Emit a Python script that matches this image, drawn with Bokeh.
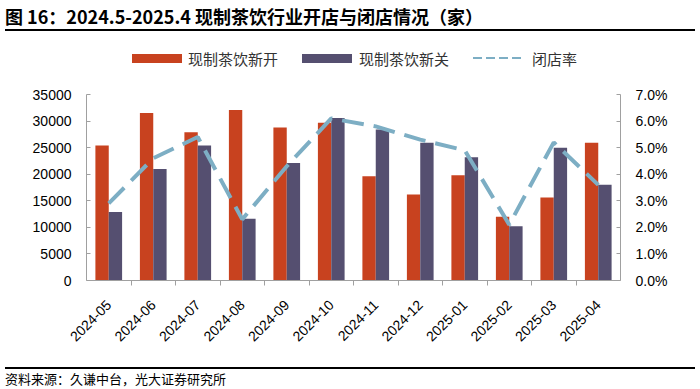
from math import pi
from bokeh.plotting import figure
from bokeh.models import (ColumnDataSource, Range1d, LinearAxis, CategoricalAxis, FixedTicker,
                          NumeralTickFormatter, BasicTickFormatter, Div, FactorRange)
from bokeh.layouts import column
from bokeh.transform import dodge
from bokeh.embed import file_html
from bokeh.resources import INLINE

# ---------------- data ----------------
months = ["2024-05", "2024-06", "2024-07", "2024-08", "2024-09", "2024-10",
          "2024-11", "2024-12", "2025-01", "2025-02", "2025-03", "2025-04"]
new_open = [25400, 31500, 27900, 32100, 28800, 29700, 19600, 16200, 19800, 12000, 15600, 25900]
new_close = [12900, 21000, 25400, 11600, 22100, 30600, 28400, 25900, 23200, 10200, 25000, 18000]
close_rate = [0.029, 0.046, 0.054, 0.023, 0.043, 0.061, 0.058, 0.053, 0.049, 0.021, 0.052, 0.036]
left_ticks = [0, 5000, 10000, 15000, 20000, 25000, 30000, 35000]
right_ticks = [0.0, 0.01, 0.02, 0.03, 0.04, 0.05, 0.06, 0.07]
series_names = ["现制茶饮新开", "现制茶饮新关", "闭店率"]
title_text = "图 16：2024.5-2025.4 现制茶饮行业开店与闭店情况（家）"
source_text = "资料来源：久谦中台，光大证券研究所"

ORANGE = "#C8421F"
PURPLE = "#554F70"
BLUE = "#7DAEC4"
AXIS = "#A0A0A0"
TICK_FONT = "Liberation Sans"
CJK = "Noto Sans CJK SC"

src = ColumnDataSource(dict(month=months, open=new_open, close=new_close, rate=close_rate))

p = figure(x_range=FactorRange(*months), y_range=Range1d(left_ticks[0], left_ticks[-1]),
           width=700, height=276, output_backend="svg", toolbar_location=None,
           x_axis_location=None, y_axis_location="left",
           min_border_left=86, min_border_right=80, min_border_top=9, min_border_bottom=81,
           outline_line_color=None, background_fill_color="white", border_fill_color="white")
p.grid.visible = False
p.extra_y_ranges = {"pct": Range1d(right_ticks[0], right_ticks[-1])}
# boundary "factors" (one more than months), padded inwards by half a factor on each side
boundaries = [f"b{i}" for i in range(len(months) + 1)]
p.extra_x_ranges = {"sep": FactorRange(factors=boundaries, range_padding=-0.5,
                                       range_padding_units="absolute")}

# left axis
ya = p.yaxis[0]
ya.ticker = FixedTicker(ticks=left_ticks)
ya.formatter = BasicTickFormatter(use_scientific=False)
ya.major_tick_in = 4
ya.major_tick_out = 0
ya.minor_tick_line_color = None
ya.axis_line_color = AXIS
ya.major_tick_line_color = AXIS
ya.major_label_text_font = TICK_FONT
ya.major_label_text_font_size = "14px"
ya.major_label_text_color = "#000"
ya.major_label_standoff = 15

# right axis
ra = LinearAxis(y_range_name="pct", ticker=FixedTicker(ticks=right_ticks),
                formatter=NumeralTickFormatter(format="0.0%"))
ra.major_tick_in = 4
ra.major_tick_out = 0
ra.minor_tick_line_color = None
ra.axis_line_color = AXIS
ra.major_tick_line_color = AXIS
ra.major_label_text_font = TICK_FONT
ra.major_label_text_font_size = "14px"
ra.major_label_text_color = "#000"
ra.major_label_standoff = 15
p.add_layout(ra, "right")

# bottom axis line with ticks at category boundaries (labels not drawn)
sa = CategoricalAxis(x_range_name="sep")
sa.major_tick_in = 0
sa.major_tick_out = 5
sa.axis_line_color = AXIS
sa.major_tick_line_color = AXIS
sa.major_label_text_font_size = "10px"
sa.major_label_text_color = None
sa.major_label_standoff = 0
p.add_layout(sa, "below")

# category labels
ca = CategoricalAxis()
ca.axis_line_color = None
ca.major_tick_line_color = None
ca.major_label_orientation = pi / 4
ca.major_label_text_font = TICK_FONT
ca.major_label_text_font_size = "14px"
ca.major_label_text_color = "#000"
ca.major_label_standoff = 11
p.add_layout(ca, "below")

p.vbar(x=dodge("month", -0.15, range=p.x_range), top="open", width=0.3, source=src,
       fill_color=ORANGE, line_color=None)
p.vbar(x=dodge("month", 0.15, range=p.x_range), top="close", width=0.3, source=src,
       fill_color=PURPLE, line_color=None)
p.line(x="month", y="rate", y_range_name="pct", source=src,
       line_color=BLUE, line_width=4, line_dash="22 10")

title_div = Div(
    text=(f'<div style="margin-left:5px;width:690px;height:31px;box-sizing:border-box;'
          f'padding-top:7px;border-bottom:2px solid #000;'
          f'font-family:\'{CJK}\';font-weight:bold;font-size:18px;line-height:18px;'
          f'white-space:nowrap;color:#000;">{title_text}</div>'),
    width=700, height=31, margin=(0, 0, 0, 0))

# legend (HTML, between title and plot)
lbl = f"font-family:'{CJK}';font-size:15px;line-height:15px;color:#333;white-space:nowrap;"
legend_html = (
    f'<div style="display:flex;align-items:center;height:54px;padding-left:132px;">'
    f'<span style="display:inline-block;width:50px;height:9px;background:{ORANGE};margin-right:6px;"></span>'
    f'<span style="{lbl}margin-right:24px;">{series_names[0]}</span>'
    f'<span style="display:inline-block;width:50px;height:9px;background:{PURPLE};margin-right:7px;"></span>'
    f'<span style="{lbl}margin-right:24px;">{series_names[1]}</span>'
    f'<span style="display:inline-block;width:49px;height:2px;margin-right:10px;'
    f'background:repeating-linear-gradient(to right,{BLUE} 0 9px,transparent 9px 13px);"></span>'
    f'<span style="{lbl}">{series_names[2]}</span>'
    f'</div>')
legend_div = Div(text=legend_html, width=700, height=54, margin=(0, 0, 0, 0))

foot_div = Div(
    text=(f'<div style="margin-left:5px;width:690px;margin-top:6px;border-top:2px solid #000;'
          f'padding-top:3px;font-family:\'{CJK}\';font-size:13px;line-height:13px;'
          f'white-space:nowrap;color:#000;">{source_text}</div>'),
    width=700, height=28, margin=(0, 0, 0, 0))

layout = column(title_div, legend_div, p, foot_div, spacing=0)

open("out.html", "w").write(file_html(layout, INLINE))
